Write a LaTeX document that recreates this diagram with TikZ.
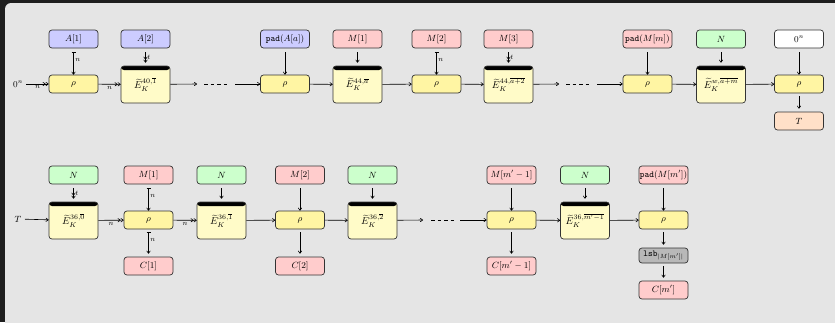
\documentclass[tikz,border=0pt]{standalone}
\usepackage{amsmath}
\usetikzlibrary{arrows.meta}
\definecolor{framec}{HTML}{1E1E1E}
\definecolor{panelc}{HTML}{E5E5E5}
\definecolor{ablue}{HTML}{CCCCFF}
\definecolor{mpink}{HTML}{FFCCCC}
\definecolor{ngreen}{HTML}{CCFFCC}
\definecolor{rhoy}{HTML}{FFF5A3}
\definecolor{ey}{HTML}{FFFBC8}
\definecolor{torange}{HTML}{FFE0C8}
\definecolor{lsbg}{HTML}{B8B8B8}
\newcommand{\ek}[1]{${\widetilde{E}}_K^{#1}$}
\begin{document}
\begin{tikzpicture}[x=1pt,y=-1pt,
  bx/.style={draw=black!80, line width=0.7pt, rounded corners=3pt, minimum width=49pt, minimum height=18pt, inner sep=0pt, font=\small},
  rhob/.style={bx, fill=rhoy},
  ebox/.style={bx, fill=ey, minimum height=37pt, font=\normalsize,
    path picture={\fill[black] ([yshift=2pt]path picture bounding box.north west) rectangle ([yshift=-4pt]path picture bounding box.north east);}},
  abox/.style={bx, fill=ablue},
  mbox/.style={bx, fill=mpink},
  nbox/.style={bx, fill=ngreen},
  wbox/.style={bx, fill=white},
  tbox/.style={bx, fill=torange},
  gbox/.style={bx, fill=lsbg, minimum height=15pt},
  lab/.style={font=\scriptsize, inner sep=1.5pt},
  ar/.style={-{To[length=3pt,width=4pt]}, line width=0.6pt},
  arn/.style={-{To[length=3pt,width=4pt]To[length=3pt,width=4pt]}, line width=0.6pt},
  arb/.style={{Bar[width=4pt]}-{To[length=3pt,width=4pt]}, line width=0.6pt},
  dsh/.style={line width=0.6pt, dash pattern=on 3.5pt off 3pt}
]
\useasboundingbox (0,0) rectangle (835,322);
\begin{scope}
\clip (0,0) rectangle (835,322);
\fill[framec] (0,0) rectangle (835,322);
\fill[panelc, rounded corners=6pt] (5,3) rectangle (850,340);
\end{scope}

% ---------- Row 1 ----------
\node (zero) at (18,84) {\small $0^n$};
\node[rhob] (r1) at (73.5,84) {$\rho$};
\node[abox] (a1) at (73.5,39) {$A[1]$};
\node[ebox] (e1) at (145.5,84.5) {\ek{40,\overline{1}}};
\node[abox] (a2) at (145.5,39) {$A[2]$};
\node[rhob] (r2) at (285,84) {$\rho$};
\node[abox] (a3) at (285,39) {$\mathtt{pad}(A[a])$};
\node[ebox] (e2) at (357.5,84.5) {\ek{44,\overline{a}}};
\node[mbox] (m1) at (357.5,39) {$M[1]$};
\node[rhob] (r3) at (436.5,84) {$\rho$};
\node[mbox] (m2) at (436.5,39) {$M[2]$};
\node[ebox] (e3) at (508.5,84.5) {\ek{44,\overline{a+2}}};
\node[mbox] (m3) at (508.5,39) {$M[3]$};
\node[rhob] (r4) at (647.5,84) {$\rho$};
\node[mbox] (mm) at (647.5,39) {$\mathtt{pad}(M[m])$};
\node[ebox] (e4) at (721,84.5) {\ek{w,\overline{a+m}}};
\node[nbox] (n1) at (721,39) {$N$};
\node[rhob] (r5) at (799,84) {$\rho$};
\node[wbox] (z2) at (799,39) {$0^n$};
\node[tbox] (tt) at (799,121) {$T$};

\coordinate (d1a) at (197,84);
\coordinate (d1b) at (204,84);
\coordinate (d1c) at (228,84);
\coordinate (d1d) at (235,84);
\coordinate (d2a) at (559,84);
\coordinate (d2b) at (566,84);
\coordinate (d2c) at (590,84);
\coordinate (d2d) at (597,84);

\draw[arn] (zero) -- node[below,lab]{$n$} (r1);
\draw[arb] ([yshift=-4pt]a1.south) -- node[right,lab,pos=0.35]{$n$} (r1);
\draw[arn] (r1) -- node[below,lab]{$n$} (e1);
\draw[arn] ([yshift=-4pt]a2.south) -- node[right,lab]{$t$} ([yshift=3pt]e1.north);
\draw[ar] (e1) -- (d1a);
\draw[dsh] (d1b) -- (d1c);
\draw[ar] (d1d) -- (r2);
\draw[ar] ([yshift=-4pt]a3.south) -- (r2);
\draw[ar] (r2) -- (e2);
\draw[ar] ([yshift=-4pt]m1.south) -- ([yshift=3pt]e2.north);
\draw[ar] (e2) -- (r3);
\draw[arb] ([yshift=-4pt]m2.south) -- node[right,lab,pos=0.35]{$n$} (r3);
\draw[ar] (r3) -- (e3);
\draw[arn] ([yshift=-4pt]m3.south) -- node[right,lab]{$t$} ([yshift=3pt]e3.north);
\draw[ar] (e3) -- (d2a);
\draw[dsh] (d2b) -- (d2c);
\draw[ar] (d2d) -- (r4);
\draw[ar] ([yshift=-4pt]mm.south) -- (r4);
\draw[ar] (r4) -- (e4);
\draw[ar] ([yshift=-4pt]n1.south) -- ([yshift=3pt]e4.north);
\draw[ar] (e4) -- (r5);
\draw[ar] ([yshift=-4pt]z2.south) -- (r5);
\draw[ar] ([yshift=-3pt]r5.south) -- ([yshift=3pt]tt.north);

% ---------- Row 2 ----------
\node (tin) at (18,219) {\small $T$};
\node[ebox] (e5) at (73.5,220.5) {\ek{36,\overline{0}}};
\node[nbox] (n5) at (73.5,175) {$N$};
\node[rhob] (r6) at (148.5,220) {$\rho$};
\node[mbox] (q1) at (148.5,175) {$M[1]$};
\node[mbox] (c1) at (148.5,266) {$C[1]$};
\node[ebox] (e6) at (221.5,220.5) {\ek{36,\overline{1}}};
\node[nbox] (n6) at (221.5,175) {$N$};
\node[rhob] (r7) at (300,220) {$\rho$};
\node[mbox] (q2) at (300,175) {$M[2]$};
\node[mbox] (c2) at (300,266) {$C[2]$};
\node[ebox] (e7) at (372.5,220.5) {\ek{36,\overline{2}}};
\node[nbox] (n7) at (372.5,175) {$N$};
\node[rhob] (r8) at (511.5,220) {$\rho$};
\node[mbox] (q3) at (511.5,175) {$M[m'-1]$};
\node[mbox] (c3) at (511.5,266) {$C[m'-1]$};
\node[ebox] (e8) at (585,220.5) {\ek{36,\overline{m'-1}}};
\node[nbox] (n8) at (585,175) {$N$};
\node[rhob] (r9) at (663.5,220) {$\rho$};
\node[mbox] (q4) at (663.5,175) {$\mathtt{pad}(M[m'])$};
\node[gbox] (ls) at (663.5,255.5) {$\mathtt{lsb}_{|M[m']|}$};
\node[mbox] (c4) at (663.5,290) {$C[m']$};

\coordinate (d3a) at (423,220);
\coordinate (d3b) at (431,220);
\coordinate (d3c) at (454,220);
\coordinate (d3d) at (460,220);

\draw[ar] (tin) -- (e5);
\draw[arn] ([yshift=-4pt]n5.south) -- node[right,lab]{$t$} ([yshift=3pt]e5.north);
\draw[arn] (e5) -- node[below,lab]{$n$} (r6);
\draw[arb] ([yshift=-4pt]q1.south) -- node[right,lab,pos=0.35]{$n$} (r6);
\draw[arb] ([yshift=-3pt]r6.south) -- node[right,lab,pos=0.35]{$n$} ([yshift=3pt]c1.north);
\draw[arn] (r6) -- node[below,lab]{$n$} (e6);
\draw[ar] ([yshift=-4pt]n6.south) -- ([yshift=3pt]e6.north);
\draw[ar] (e6) -- (r7);
\draw[ar] ([yshift=-4pt]q2.south) -- (r7);
\draw[ar] ([yshift=-3pt]r7.south) -- ([yshift=3pt]c2.north);
\draw[ar] (r7) -- (e7);
\draw[ar] ([yshift=-4pt]n7.south) -- ([yshift=3pt]e7.north);
\draw[ar] (e7) -- (d3a);
\draw[dsh] (d3b) -- (d3c);
\draw[ar] (d3d) -- (r8);
\draw[ar] ([yshift=-4pt]q3.south) -- (r8);
\draw[ar] ([yshift=-3pt]r8.south) -- ([yshift=3pt]c3.north);
\draw[ar] (r8) -- (e8);
\draw[ar] ([yshift=-4pt]n8.south) -- ([yshift=3pt]e8.north);
\draw[ar] (e8) -- (r9);
\draw[ar] ([yshift=-4pt]q4.south) -- (r9);
\draw[ar] ([yshift=-3pt]r9.south) -- ([yshift=3pt]ls.north);
\draw[ar] ([yshift=-3pt]ls.south) -- ([yshift=3pt]c4.north);
\end{tikzpicture}
\end{document}
